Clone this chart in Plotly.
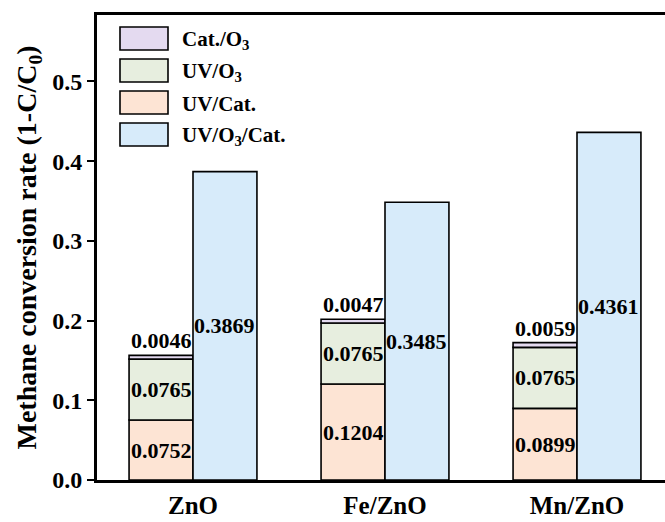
import plotly.graph_objects as go

# Catalysts and the conversion measured for each treatment
catalysts = ["ZnO", "Fe/ZnO", "Mn/ZnO"]
uv_cat = [0.0752, 0.1204, 0.0899]
uv_o3 = [0.0765, 0.0765, 0.0765]
cat_o3 = [0.0046, 0.0047, 0.0059]
uv_o3_cat = [0.3869, 0.3485, 0.4361]
y_ticks = [0.0, 0.1, 0.2, 0.3, 0.4, 0.5]

FONT = "Liberation Serif, Times New Roman, serif"
C_CAT_O3 = "#E4DAF0"
C_UV_O3 = "#E7EEDF"
C_UV_CAT = "#FDE4D4"
C_FULL = "#D7EBFA"

W, H = 665, 522
M_L, M_R, M_T, M_B = 97, 0, 15, 42
BAR_W = 0.333
OFF = BAR_W / 2

x_pos = list(range(len(catalysts)))
x_stack = [x - OFF for x in x_pos]
x_full = [x + OFF for x in x_pos]

fig = go.Figure()
line = dict(color="black", width=1.6)

# stacked column: UV/Cat. + UV/O3 + Cat./O3
base_uv_o3 = uv_cat
base_cat_o3 = [a + b for a, b in zip(uv_cat, uv_o3)]
fig.add_trace(go.Bar(x=x_stack, y=uv_cat, base=[0] * 3, width=BAR_W,
                     marker=dict(color=C_UV_CAT, line=line), name="UV/Cat."))
fig.add_trace(go.Bar(x=x_stack, y=uv_o3, base=base_uv_o3, width=BAR_W,
                     marker=dict(color=C_UV_O3, line=line), name="UV/O3"))
fig.add_trace(go.Bar(x=x_stack, y=cat_o3, base=base_cat_o3, width=BAR_W,
                     marker=dict(color=C_CAT_O3, line=line), name="Cat./O3"))
# combined treatment column
fig.add_trace(go.Bar(x=x_full, y=uv_o3_cat, base=[0] * 3, width=BAR_W,
                     marker=dict(color=C_FULL, line=line), name="UV/O3/Cat."))

lab_font = dict(family=FONT, size=22, color="black")
anns = []


def bold(s):
    return f"<b>{s}</b>"


for i in range(3):
    anns.append(dict(x=x_stack[i], y=uv_cat[i] / 2, text=bold(f"{uv_cat[i]:.4f}"),
                     showarrow=False, font=lab_font))
    anns.append(dict(x=x_stack[i], y=base_uv_o3[i] + uv_o3[i] / 2,
                     text=bold(f"{uv_o3[i]:.4f}"), showarrow=False, font=lab_font))
    anns.append(dict(x=x_stack[i], y=base_cat_o3[i] + cat_o3[i],
                     text=bold(f"{cat_o3[i]:.4f}"), showarrow=False, font=lab_font,
                     yanchor="bottom", yshift=0))
    anns.append(dict(x=x_full[i], y=uv_o3_cat[i] / 2,
                     text=bold(f"{uv_o3_cat[i]:.4f}"), showarrow=False, font=lab_font))

# legend drawn as boxes + labels in pixel space
plot_w = W - M_L - M_R
plot_h = H - M_T - M_B


def px(x):
    return (x - M_L) / plot_w


def py(y):
    return (H - M_B - y) / plot_h


legend_items = [("Cat./O<sub>3</sub>", C_CAT_O3), ("UV/O<sub>3</sub>", C_UV_O3),
                ("UV/Cat.", C_UV_CAT), ("UV/O<sub>3</sub>/Cat.", C_FULL)]
shapes = []
for k, (txt, col) in enumerate(legend_items):
    top = 27 + k * 32
    shapes.append(dict(type="rect", xref="paper", yref="paper",
                       x0=px(120), x1=px(168), y0=py(top), y1=py(top + 23),
                       fillcolor=col, line=dict(color="black", width=1.6)))
    anns.append(dict(xref="paper", yref="paper", x=px(180), y=py(top + 13),
                     text=bold(txt), showarrow=False, xanchor="left", yanchor="middle",
                     font=dict(family=FONT, size=21, color="black")))

fig.update_layout(
    width=W, height=H,
    margin=dict(l=M_L, r=M_R, t=M_T, b=M_B),
    paper_bgcolor="white", plot_bgcolor="white",
    barmode="overlay", showlegend=False,
    annotations=anns, shapes=shapes,
    font=dict(family=FONT, color="black"),
)
fig.update_xaxes(
    range=[-0.5, -0.5 + plot_w / 576 * 3], tickvals=x_pos,
    ticktext=[bold(c) for c in catalysts],
    showline=True, linecolor="black", linewidth=3, mirror=True,
    ticks="", showgrid=False, zeroline=False, ticklabelstandoff=1,
    tickfont=dict(family=FONT, size=25, color="black"),
)
fig.update_yaxes(
    range=[0, 0.5834], tickvals=y_ticks,
    ticktext=[bold(f"{v:.1f}") for v in y_ticks],
    showline=True, linecolor="black", linewidth=3,
    ticks="outside", ticklen=7, tickwidth=2, tickcolor="black",
    showgrid=False, zeroline=False,
    tickfont=dict(family=FONT, size=24, color="black"),
    title=dict(text=bold("Methane conversion rate (1-C/C<sub>0</sub>)"), standoff=8,
               font=dict(family=FONT, size=28, color="black")),
)

fig.write_html("out.html")
